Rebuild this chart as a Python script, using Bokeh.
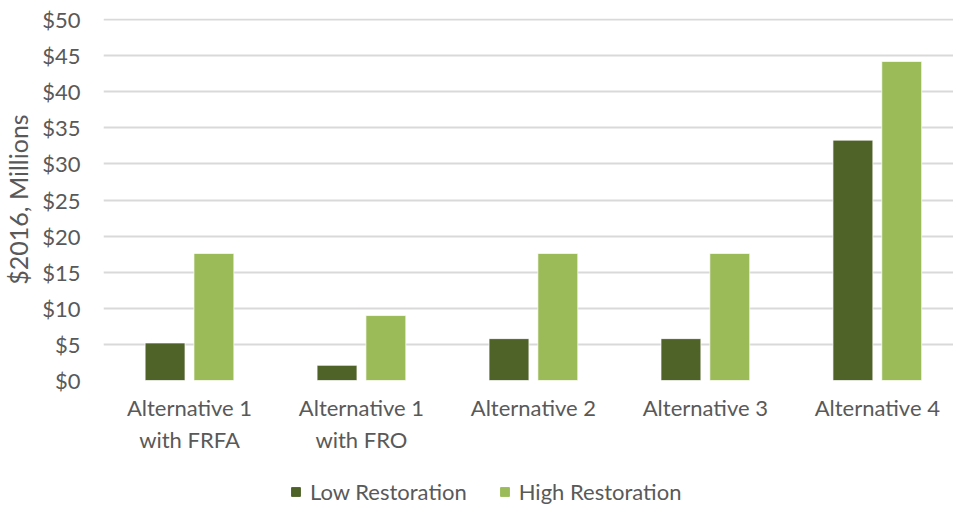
from bokeh.plotting import figure
from bokeh.models import ColumnDataSource, Legend, LegendItem, FixedTicker, Range1d
from bokeh.layouts import column
from bokeh.embed import file_html
from bokeh.resources import INLINE

categories = ["Alternative 1\nwith FRFA", "Alternative 1\nwith FRO", "Alternative 2", "Alternative 3", "Alternative 4"]
low_restoration = [5.2, 2.1, 5.8, 5.8, 33.3]
high_restoration = [17.6, 9.0, 17.6, 17.6, 44.2]
y_ticks = [0, 5, 10, 15, 20, 25, 30, 35, 40, 45, 50]
y_tick_labels = ["$" + str(t) for t in y_ticks]
series_names = ["Low Restoration", "High Restoration"]

FONT = "Lato"
TXT = "#595959"
DARK = "#4F6228"
LIGHT = "#9BBB59"

xs = list(range(len(categories)))
src = ColumnDataSource(dict(
    x_low=[x - 0.142 for x in xs],
    x_high=[x + 0.142 for x in xs],
    low=low_restoration,
    high=high_restoration,
))

p = figure(width=953, height=470, output_backend="svg", toolbar_location=None,
           x_range=Range1d(-0.5, 4.443), y_range=Range1d(0, 50.15),
           min_border_left=103, min_border_right=0, min_border_top=18,
           min_border_bottom=90)
p.outline_line_color = None
p.background_fill_color = "white"
p.border_fill_color = "white"

p.vbar(x="x_low", top="low", width=0.232, source=src, fill_color=DARK,
       line_color="white", line_width=0.7)
p.vbar(x="x_high", top="high", width=0.232, source=src, fill_color=LIGHT,
       line_color="white", line_width=0.7)

p.xgrid.grid_line_color = None
p.ygrid.grid_line_color = "#D9D9D9"
p.ygrid.grid_line_width = 2
p.ygrid.ticker = FixedTicker(ticks=y_ticks)
p.ygrid.level = "underlay"

p.yaxis.ticker = FixedTicker(ticks=y_ticks)
p.yaxis.major_label_overrides = {t: l for t, l in zip(y_ticks, y_tick_labels)}
p.xaxis.ticker = FixedTicker(ticks=xs)
p.xaxis.major_label_overrides = {x: c for x, c in zip(xs, categories)}

for ax in (p.xaxis[0], p.yaxis[0]):
    ax.axis_line_color = None
    ax.major_tick_line_color = None
    ax.minor_tick_line_color = None
    ax.major_tick_out = 0
    ax.major_tick_in = 0
    ax.major_label_text_font = FONT
    ax.major_label_text_font_size = "22px"
    ax.major_label_text_color = TXT

p.yaxis.major_label_standoff = 23
p.xaxis.major_label_standoff = 13
p.yaxis.axis_label = "$2016, Millions"
p.yaxis.axis_label_text_font = FONT
p.yaxis.axis_label_text_font_size = "25px"
p.yaxis.axis_label_text_font_style = "normal"
p.yaxis.axis_label_text_color = TXT
p.yaxis.axis_label_standoff = 6

# Legend strip below the chart (swatch renderers sit outside the visible range)
lg = figure(width=953, height=36, output_backend="svg", toolbar_location=None,
            x_range=Range1d(0, 1), y_range=Range1d(0, 1),
            min_border_left=0, min_border_right=0, min_border_top=0,
            min_border_bottom=0)
lg.axis.visible = False
lg.grid.visible = False
lg.outline_line_color = None
swatch = ColumnDataSource(dict(x=[-10], top=[-10]))
g_low = lg.vbar(x="x", top="top", bottom=-11, width=0.1, source=swatch,
                fill_color=DARK, line_color=DARK)
g_high = lg.vbar(x="x", top="top", bottom=-11, width=0.1, source=swatch,
                 fill_color=LIGHT, line_color=LIGHT)

legend = Legend(items=[LegendItem(label=series_names[0], renderers=[g_low], index=0),
                       LegendItem(label=series_names[1], renderers=[g_high], index=0)],
                orientation="horizontal", location=(187, 1),
                padding=0, margin=0, spacing=32, label_standoff=9,
                glyph_width=11, glyph_height=11,
                border_line_color=None, background_fill_alpha=0,
                label_text_font=FONT, label_text_font_size="22px",
                label_text_color=TXT)
lg.add_layout(legend, "center")

layout = column(p, lg, spacing=0)
open("out.html", "w").write(file_html(layout, INLINE))
